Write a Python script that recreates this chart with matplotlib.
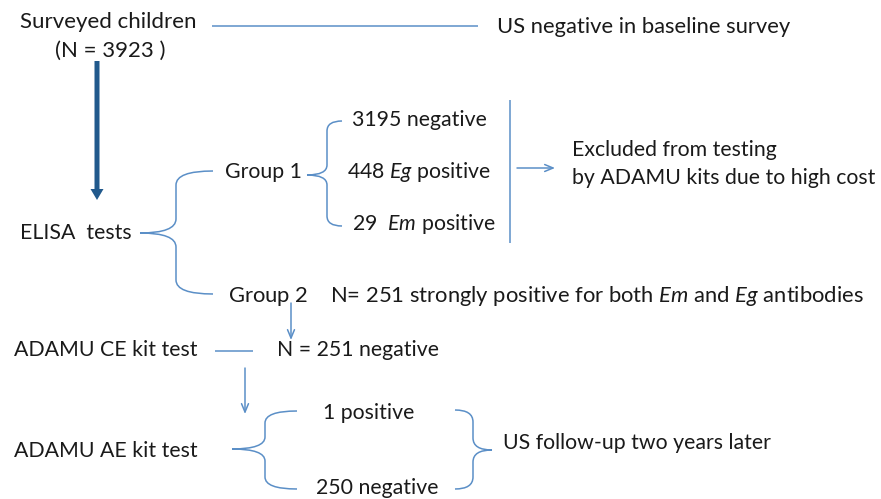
import matplotlib
matplotlib.use("Agg")
import matplotlib.pyplot as plt
from matplotlib.path import Path
from matplotlib.patches import PathPatch

# ---- data ----
n_surveyed = 3923
g1_negative = 3195
g1_eg_positive = 448
g1_em_positive = 29
g2_n = 251
ce_negative = 251
ae_positive = 1
ae_negative = 250

plt.rcParams['font.family'] = ['Lato', 'DejaVu Sans']
plt.rcParams['mathtext.fontset'] = 'custom'
plt.rcParams['mathtext.rm'] = 'Lato'
plt.rcParams['mathtext.it'] = 'Lato:italic'

W, H = 881, 499
fig = plt.figure(figsize=(W / 100, H / 100), dpi=100)
ax = fig.add_axes([0, 0, 1, 1])
ax.set_xlim(0, W)
ax.set_ylim(H, 0)
ax.axis('off')

LINE = '#5b8fc7'
DARK = '#21598c'
TXT = '#1a1a1a'
FS = 15.3


def txt(x, y, s, ha='left', fs=FS):
    ax.text(x, y, s, ha=ha, va='center', fontsize=fs, color=TXT)


def line(x0, y0, x1, y1):
    ax.plot([x0, x1], [y0, y1], color=LINE, lw=1.1, solid_capstyle='butt')


def arrow(x0, y0, x1, y1):
    ax.annotate('', xy=(x1, y1), xytext=(x0, y0),
                arrowprops=dict(arrowstyle='->,head_width=0.25,head_length=0.6',
                                color=LINE, lw=1.1, shrinkA=0, shrinkB=0))


def brace(x_end, x_v, x_tip, y_top, y_mid, y_bot, r=12):
    verts = [(x_end, y_top), (x_v, y_top), (x_v, y_top + r),
             (x_v, y_mid - r), (x_v, y_mid), (x_tip, y_mid),
             (x_tip, y_mid), (x_v, y_mid), (x_v, y_mid + r),
             (x_v, y_bot - r), (x_v, y_bot), (x_end, y_bot)]
    codes = [Path.MOVETO, Path.CURVE3, Path.CURVE3,
             Path.LINETO, Path.CURVE3, Path.CURVE3,
             Path.MOVETO, Path.CURVE3, Path.CURVE3,
             Path.LINETO, Path.CURVE3, Path.CURVE3]
    ax.add_patch(PathPatch(Path(verts, codes), fill=False, edgecolor=LINE, lw=1.1))


# top row
txt(108, 22, 'Surveyed children', ha='center', fs=16)
txt(110, 51, f'(N = {n_surveyed} )', ha='center', fs=16)
line(212, 26, 478, 26)
txt(497, 27, 'US negative in baseline survey', fs=15.8)

# thick arrow
ax.arrow(97, 61, 0, 139, width=5, head_width=13, head_length=11,
         length_includes_head=True, color=DARK, lw=0)

# ELISA
txt(20, 233, 'ELISA  tests')
brace(213, 176, 140, 171, 233, 294, r=14)

# Group 1
txt(225, 172, 'Group 1')
brace(342, 327, 307, 121, 175, 226, r=10)
txt(352, 120, f'{g1_negative} negative')
txt(347, 172, f'{g1_eg_positive} $\\mathit{{Eg}}$ positive')
txt(352, 224, f'{g1_em_positive}  $\\mathit{{Em}}$ positive')
line(510, 100, 510, 243)
arrow(517, 168, 555, 168)
txt(572, 150, 'Excluded from testing')
txt(572, 178, 'by ADAMU kits due to high cost')

# Group 2
txt(228, 296, f'Group 2    N= {g2_n} strongly positive for both $\\mathit{{Em}}$ and $\\mathit{{Eg}}$ antibodies', fs=15.8)
arrow(291, 303, 291, 340)

# CE kit
txt(14, 350, 'ADAMU CE kit test')
line(215, 351, 253, 351)
txt(277, 350, f'N = {ce_negative} negative')
arrow(245, 368, 245, 414)

# AE kit
txt(14, 451, 'ADAMU AE kit test')
brace(297, 265, 232, 411, 449, 489, r=12)
txt(323, 413, f'{ae_positive} positive')
txt(316, 488, f'{ae_negative} negative')
brace(455, 473, 492, 410, 450, 489, r=12)
txt(503, 443, 'US follow-up two years later')

fig.savefig('out.png', dpi=100)
